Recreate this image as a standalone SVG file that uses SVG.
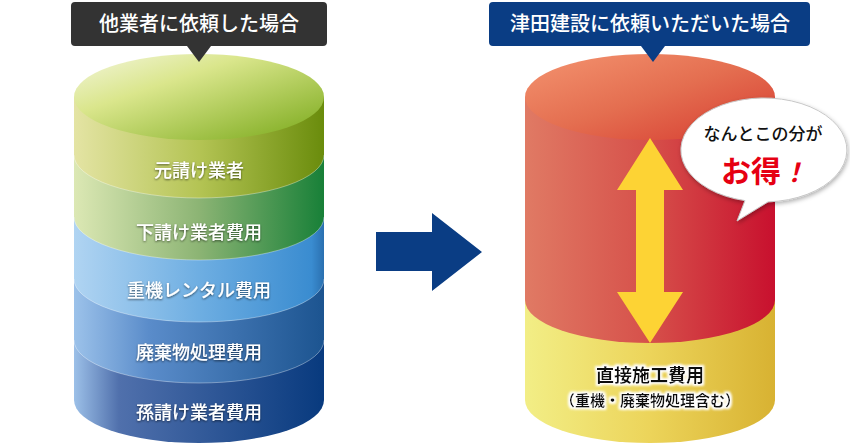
<svg xmlns="http://www.w3.org/2000/svg" width="850" height="445" viewBox="0 0 850 445">
<defs>
<style>
.lbl{font-family:"Noto Sans CJK JP","Noto Sans",sans-serif;font-size:18px;font-weight:500;fill:#fff;text-anchor:middle;filter:url(#sh)}
.ttl{font-family:"Noto Sans CJK JP","Noto Sans",sans-serif;font-size:20px;font-weight:500;fill:#fff;text-anchor:middle}
.dk{font-family:"Noto Sans CJK JP","Noto Sans",sans-serif;font-weight:700;fill:#111;text-anchor:middle;filter:url(#glow)}
.edge{fill:none;stroke:#fff;stroke-opacity:0.35;stroke-width:1}
</style>
<filter id="sh" x="-20%" y="-50%" width="140%" height="200%"><feDropShadow dx="0" dy="1" stdDeviation="1.2" flood-color="#000" flood-opacity="0.6"/></filter>
<filter id="glow" x="-20%" y="-50%" width="140%" height="200%"><feMorphology in="SourceAlpha" operator="dilate" radius="1.5" result="d"/><feGaussianBlur in="d" stdDeviation="1" result="b"/><feFlood flood-color="#fff"/><feComposite in2="b" operator="in" result="w"/><feMerge><feMergeNode in="w"/><feMergeNode in="SourceGraphic"/></feMerge></filter>
<filter id="bsh" x="-20%" y="-20%" width="140%" height="150%"><feDropShadow dx="1" dy="2" stdDeviation="2" flood-color="#000" flood-opacity="0.3"/></filter>
<linearGradient id="gTopL" x1="0" y1="0" x2="1" y2="1"><stop offset="0" stop-color="#f4f6de"/><stop offset="0.35" stop-color="#dae68c"/><stop offset="1" stop-color="#78a818"/></linearGradient>
<linearGradient id="g1" x1="0" y1="0" x2="1" y2="0"><stop offset="0" stop-color="#e4e4a4"/><stop offset="0.5" stop-color="#b4c454"/><stop offset="1" stop-color="#6a8c0c"/></linearGradient>
<linearGradient id="g2" x1="0" y1="0" x2="1" y2="0"><stop offset="0" stop-color="#dce8b4"/><stop offset="0.5" stop-color="#8cb474"/><stop offset="1" stop-color="#188038"/></linearGradient>
<linearGradient id="g3" x1="0" y1="0" x2="1" y2="0"><stop offset="0" stop-color="#b0d4f2"/><stop offset="0.5" stop-color="#6eaee2"/><stop offset="0.95" stop-color="#3a8cd0"/><stop offset="1" stop-color="#2a70b0"/></linearGradient>
<linearGradient id="g4" x1="0" y1="0" x2="1" y2="0"><stop offset="0" stop-color="#9cc2ea"/><stop offset="0.3" stop-color="#5a8cca"/><stop offset="1" stop-color="#1c5490"/></linearGradient>
<linearGradient id="g5" x1="0" y1="0" x2="1" y2="0"><stop offset="0" stop-color="#9cc0e8"/><stop offset="0.18" stop-color="#5070ac"/><stop offset="1" stop-color="#083a7e"/></linearGradient>
<linearGradient id="gTopR" x1="0" y1="0" x2="1" y2="1"><stop offset="0" stop-color="#f49470"/><stop offset="0.5" stop-color="#e46e50"/><stop offset="1" stop-color="#d63a30"/></linearGradient>
<linearGradient id="gRed" x1="0" y1="0" x2="1" y2="0"><stop offset="0" stop-color="#e07a64"/><stop offset="0.5" stop-color="#d6504a"/><stop offset="1" stop-color="#c8102e"/></linearGradient>
<linearGradient id="gYel" x1="0" y1="0" x2="1" y2="0"><stop offset="0" stop-color="#f2ee86"/><stop offset="0.5" stop-color="#ecd45a"/><stop offset="1" stop-color="#d8b232"/></linearGradient>
</defs>
<rect width="850" height="445" fill="#fff"/>

<g id="left-cylinder">
  <g id="layer-mago">
    <path d="M74,340 V400 A125,43 0 0 0 324,400 V340 Z" fill="url(#g5)"/>
    <text class="lbl" x="199" y="419">孫請け業者費用</text>
  </g>
  <g id="layer-haiki">
    <path d="M74,279 V340 A125,43 0 0 0 324,340 V279 Z" fill="url(#g4)"/>
    <path class="edge" d="M74,340 A125,43 0 0 0 324,340"/>
    <text class="lbl" x="199" y="359">廃棄物処理費用</text>
  </g>
  <g id="layer-juki">
    <path d="M74,217 V279 A125,43 0 0 0 324,279 V217 Z" fill="url(#g3)"/>
    <path class="edge" d="M74,279 A125,43 0 0 0 324,279"/>
    <text class="lbl" x="199" y="297">重機レンタル費用</text>
  </g>
  <g id="layer-shita">
    <path d="M74,155 V217 A125,43 0 0 0 324,217 V155 Z" fill="url(#g2)"/>
    <path class="edge" d="M74,217 A125,43 0 0 0 324,217"/>
    <text class="lbl" x="199" y="239">下請け業者費用</text>
  </g>
  <g id="layer-moto">
    <path d="M74,97 V155 A125,43 0 0 0 324,155 V97 Z" fill="url(#g1)"/>
    <path class="edge" d="M74,155 A125,43 0 0 0 324,155"/>
    <text class="lbl" x="199" y="177">元請け業者</text>
  </g>
  <g id="top-left">
    <ellipse cx="199" cy="97" rx="125" ry="43" fill="url(#gTopL)"/>
  </g>
</g>

<g id="title-left">
  <path d="M75,2 H323 Q327,2 327,6 V42 Q327,46 323,46 H211 L199,62 L187,46 H75 Q71,46 71,42 V6 Q71,2 75,2 Z" fill="#333"/>
  <text class="ttl" x="199" y="31">他業者に依頼した場合</text>
</g>

<g id="connectors">
  <path d="M376,232 H432 V213 L482,252 L432,291 V271 H376 Z" fill="#0a3d84"/>
</g>

<g id="right-cylinder">
  <g id="layer-direct">
    <path d="M525,300 V400 A125,43 0 0 0 775,400 V300 Z" fill="url(#gYel)"/>
    <text class="dk" x="650" y="382" font-size="18">直接施工費用</text>
    <text class="dk" x="650" y="406" font-size="15">（重機・廃棄物処理含む）</text>
  </g>
  <g id="layer-red">
    <path d="M525,97 V300 A125,43 0 0 0 775,300 V97 Z" fill="url(#gRed)"/>
  </g>
  <g id="top-right">
    <ellipse cx="650" cy="97" rx="125" ry="43" fill="url(#gTopR)"/>
  </g>
  <g id="double-arrow">
    <path d="M650,138 L683,190 H664 V292 H683 L650,343 L617,292 H636 V190 H617 Z" fill="#fdd334"/>
  </g>
</g>

<g id="title-right">
  <path d="M493,2 H806 Q810,2 810,6 V42 Q810,46 806,46 H665 L653,62 L641,46 H493 Q489,46 489,42 V6 Q489,2 493,2 Z" fill="#0a3d84"/>
  <text class="ttl" x="650" y="31">津田建設に依頼いただいた場合</text>
</g>

<g id="bubble">
  <path d="M745,200.6 A83,52 0 1 1 768,201.9 L737,221 Z" fill="#fff" stroke="#c8c8c8" stroke-width="1" filter="url(#bsh)"/>
  <text x="763" y="140" font-family="'Noto Sans CJK JP','Noto Sans',sans-serif" font-size="17" font-weight="500" fill="#111" text-anchor="middle">なんとこの分が</text>
  <text x="764" y="182" font-family="'Noto Sans CJK JP','Noto Sans',sans-serif" font-size="30" font-weight="700" fill="#e60012" text-anchor="middle">お得<tspan font-style="italic" font-size="26">！</tspan></text>
</g>
</svg>
